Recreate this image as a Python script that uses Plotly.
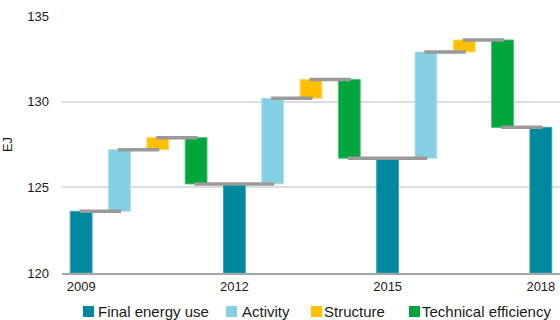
import plotly.graph_objects as go

# Final energy use in benchmark years (EJ) and the effects between them
years = ["2009", "2012", "2015", "2018"]
final_use = [123.6, 125.2, 126.7, 128.5]
activity = [3.6, 5.0, 6.2]
structure = [0.7, 1.1, 0.7]
technical = [-2.7, -4.6, -5.1]

series_names = ["Final energy use", "Activity", "Structure", "Technical efficiency"]
colors = ["#00889e", "#84cfe2", "#ffc000", "#00a63c"]
edges = ["#3aa3b4", "#b0e0ec", "#ffd766", "#4cc074"]

# Each period: year bar, then activity, structure, technical efficiency
n_periods = len(years) - 1
pos_final = [4 * i for i in range(len(years))]
pos_eff = [[4 * i + k for i in range(n_periods)] for k in (1, 2, 3)]

bases = [[], [], []]
connectors = []  # (x start, x end, level)
for i in range(n_periods):
    level = final_use[i]
    connectors.append((4 * i, 4 * i + 1, level))
    for k, eff in enumerate((activity, structure, technical)):
        start = level
        level = start + eff[i]
        bases[k].append(min(start, level))
        x0 = 4 * i + k + 1
        if k < 2:
            connectors.append((x0, x0 + 1, level))
        else:
            # last effect links over the next year bar to the next activity bar
            x1 = x0 + 1 if i == n_periods - 1 else x0 + 2
            connectors.append((x0, x1, level))
# the year bar following a period shares the connector, so drop its own start
connectors = [c for c in connectors if not (c[0] in pos_final[1:])]

heights = [[abs(v) for v in eff] for eff in (activity, structure, technical)]

fig = go.Figure()

fig.add_trace(go.Bar(
    x=pos_final, y=[v - 120 for v in final_use], base=120,
    name=series_names[0], width=0.57,
    marker=dict(color=colors[0], line=dict(color=edges[0], width=1)),
    showlegend=False,
))
for k in range(3):
    fig.add_trace(go.Bar(
        x=pos_eff[k], y=heights[k], base=bases[k],
        name=series_names[k + 1], width=0.57,
        marker=dict(color=colors[k + 1], line=dict(color=edges[k + 1], width=1)),
        showlegend=False,
    ))

cx, cy = [], []
ext = 0.04
for x0, x1, lv in connectors:
    cx += [x0 - ext, x1 + ext, None]
    cy += [lv, lv, None]

fig.add_trace(go.Scatter(
    x=cx, y=cy, mode="lines",
    line=dict(color="#9a9a9a", width=3.5),
    showlegend=False, hoverinfo="skip",
))

# Legend drawn below the plot area
left, width_px = 62, 498
bottom, height_px = 273, 257
sq_x = [83, 226, 311, 409]
txt_x = [96, 240, 322, 420]
leg_y = 311.5
for name, col, sx, tx in zip(series_names, colors, sq_x, txt_x):
    fig.add_shape(
        type="rect", xref="paper", yref="paper",
        x0=(sx - left) / width_px, x1=(sx + 11 - left) / width_px,
        y0=(bottom - (leg_y + 5.5)) / height_px, y1=(bottom - (leg_y - 5.5)) / height_px,
        fillcolor=col, line=dict(width=0),
    )
    fig.add_annotation(
        text=name, xref="paper", yref="paper",
        x=(tx - left) / width_px, y=(bottom - leg_y) / height_px,
        xanchor="left", yanchor="middle", showarrow=False,
        font=dict(size=15, color="#1a1a1a", family="Liberation Sans, Arial, sans-serif"),
    )

fig.update_layout(
    width=560, height=320,
    margin=dict(l=62, r=0, t=16, b=47),
    plot_bgcolor="white", paper_bgcolor="white",
    barmode="overlay",
    font=dict(family="Liberation Sans, Arial, sans-serif", color="#1a1a1a", size=13),
    xaxis=dict(
        range=[-0.5, 12.5],
        tickvals=pos_final, ticktext=years,
        showgrid=False, zeroline=False,
        showline=True, linecolor="#a6a6a6", linewidth=2,
        ticks="", tickfont=dict(size=13),
        fixedrange=True,
    ),
    yaxis=dict(
        range=[120, 135],
        tickvals=[120, 125, 130, 135],
        showgrid=True, gridcolor="#dddddd", gridwidth=1.5,
        zeroline=False, showline=False, ticks="",
        ticklabelstandoff=12,
        tickfont=dict(size=13),
        title=dict(text="EJ", font=dict(size=13), standoff=14),
        fixedrange=True,
    ),
)

fig.write_html("out.html")
